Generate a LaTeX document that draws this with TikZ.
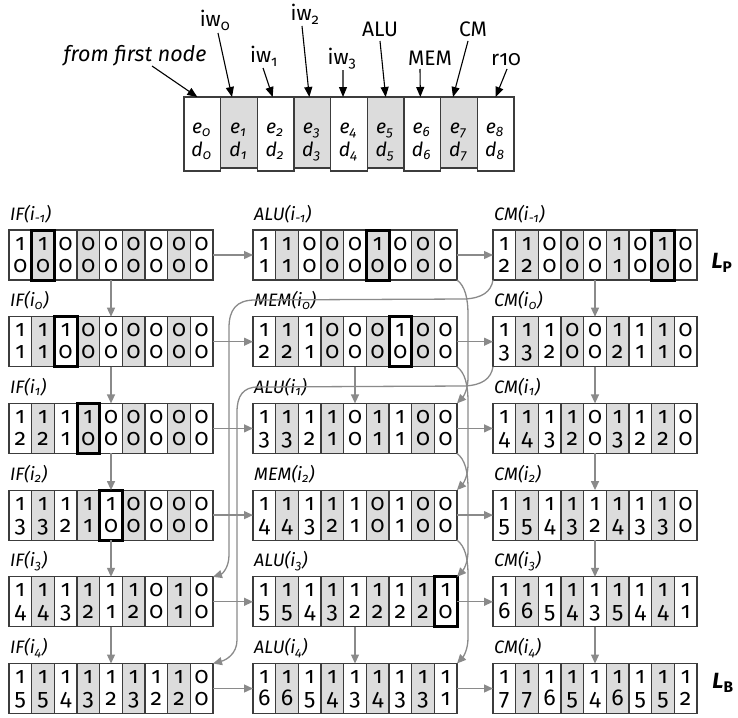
\documentclass[tikz,border=0pt]{standalone}
\usepackage{fontspec}
\setmainfont{Fira Sans}[Numbers=OldStyle]
\usetikzlibrary{arrows.meta}
\definecolor{cellgray}{HTML}{DCDCDC}
\definecolor{arrgray}{HTML}{8A8A8A}
\definecolor{edge}{HTML}{3C3C3C}
\tikzset{
  cell/.style={draw=edge, line width=1.1pt, minimum width=22.667pt, minimum height=50pt, inner sep=0pt, outer sep=0pt},
  tcell/.style={draw=edge, line width=1.1pt, minimum width=36.667pt, inner sep=0pt, outer sep=0pt},
  dig/.style={font=\fontsize{23}{23}\selectfont, inner sep=0pt, anchor=base},
  lab/.style={font=\fontsize{18}{18}\selectfont\itshape, inner sep=0pt, anchor=base west},
  tlab/.style={font=\fontsize{21}{21}\selectfont, inner sep=0pt, anchor=base},
  ed/.style={font=\fontsize{19.5}{19.5}\selectfont\itshape, inner sep=0pt, anchor=base},
  conn/.style={draw=arrgray, line width=1.3pt, -{Triangle[length=9pt,width=8pt]}},
  tarr/.style={draw=black, line width=1.1pt, -{Triangle[length=10pt,width=8pt]}},
  boldcell/.style={draw=black, line width=3pt},
  arrbox/.style={inner sep=0pt, outer sep=0pt, minimum width=204pt, minimum height=50pt}
}
\newcommand\mkarr[6]{%
  \node[lab] (#1-lab) at (#2+1,#3-10) {#6};
  \node[arrbox] (#1) at (#2+102,#3+25) {};
  \foreach \ta/\tb [count=\i from 0] in {#4} {
    \pgfmathtruncatemacro\odd{mod(\i,2)}
    \ifnum\odd=1 \def\fc{cellgray}\else\def\fc{white}\fi
    \node[cell, fill=\fc] (#1-\i) at (#2+\i*22.667+11.333,#3+25) {};
    \node[dig] (#1-\i-t) at (#2+\i*22.667+11.333,#3+20) {\ta};
    \node[dig] (#1-\i-b) at (#2+\i*22.667+11.333,#3+42) {\tb};
  }
  \ifnum#5>-1 \draw[boldcell] (#1-#5.north west) rectangle (#1-#5.south east);\fi
}
\begin{document}
\begin{tikzpicture}[x=1pt,y=-1pt]
\useasboundingbox (0,0) rectangle (738,717);

% ---------- top array ----------
\foreach \i in {0,...,8} {
  \pgfmathtruncatemacro\odd{mod(\i,2)}
  \ifnum\odd=1
    \node[tcell, fill=cellgray, minimum height=71pt] (e\i) at (184+\i*36.667+18.333,132.5) {};
  \else
    \node[tcell, fill=white, minimum height=74pt] (e\i) at (184+\i*36.667+18.333,134) {};
  \fi
  \node[ed] (e\i-t) at (184+\i*36.667+17.5,133) {e\textsubscript{\i}};
  \node[ed] (e\i-b) at (184+\i*36.667+17.5,156) {d\textsubscript{\i}};
}

\node[tlab, font=\fontsize{21.5}{21.5}\selectfont\itshape] (lfrom) at (135,61) {from first node};
\node[tlab] (liw0) at (215,27) {iw\textsubscript{0}};
\node[tlab] (liw1) at (264,63) {iw\textsubscript{1}};
\node[tlab] (liw2) at (305,21) {iw\textsubscript{2}};
\node[tlab] (liw3) at (342,64) {iw\textsubscript{3}};
\node[tlab] (lalu) at (380,37) {ALU};
\node[tlab] (lmem) at (430,65) {MEM};
\node[tlab] (lcm) at (473,37) {CM};
\node[tlab] (lr10) at (506,65) {r10};

\coordinate (sfrom) at (152,66);
\coordinate (siw0) at (218,33);
\coordinate (siw1) at (263,68);
\coordinate (siw2) at (302,26);
\coordinate (siw3) at (343,70);
\coordinate (salu) at (380,41);
\coordinate (smem) at (420,69);
\coordinate (scm) at (468,41);
\coordinate (sr10) at (507,69);

\draw[tarr] (sfrom) -- ([xshift=-5pt]e0.north);
\draw[tarr] (siw0) -- ([xshift=-7pt]e1.north);
\draw[tarr] (siw1) -- ([xshift=-3pt]e2.north);
\draw[tarr] (siw2) -- ([xshift=-3pt]e3.north);
\draw[tarr] (siw3) -- ([xshift=-6pt]e4.north);
\draw[tarr] (salu) -- ([xshift=0pt]e5.north);
\draw[tarr] (smem) -- ([xshift=-2pt]e6.north);
\draw[tarr] (scm) -- ([xshift=-6pt]e7.north);
\draw[tarr] (sr10) -- ([xshift=0pt]e8.north);

% ---------- column IF ----------
\mkarr{a0}{9}{230}{1/0,1/0,0/0,0/0,0/0,0/0,0/0,0/0,0/0}{1}{IF(i\textsubscript{-1})}
\mkarr{a1}{9}{316.7}{1/1,1/1,1/0,0/0,0/0,0/0,0/0,0/0,0/0}{2}{IF(i\textsubscript{0})}
\mkarr{a2}{9}{403.4}{1/2,1/2,1/1,1/0,0/0,0/0,0/0,0/0,0/0}{3}{IF(i\textsubscript{1})}
\mkarr{a3}{9}{490.1}{1/3,1/3,1/2,1/1,1/0,0/0,0/0,0/0,0/0}{4}{IF(i\textsubscript{2})}
\mkarr{a4}{9}{576.8}{1/4,1/4,1/3,1/2,1/1,1/2,0/0,1/1,0/0}{-1}{IF(i\textsubscript{3})}
\mkarr{a5}{9}{663.5}{1/5,1/5,1/4,1/3,1/2,1/3,1/2,1/2,0/0}{-1}{IF(i\textsubscript{4})}

% ---------- column ALU/MEM ----------
\mkarr{b0}{253}{230}{1/1,1/1,0/0,0/0,0/0,1/0,0/0,0/0,0/0}{5}{ALU(i\textsubscript{-1})}
\mkarr{b1}{253}{316.7}{1/2,1/2,1/1,0/0,0/0,0/0,1/0,0/0,0/0}{6}{MEM(i\textsubscript{0})}
\mkarr{b2}{253}{403.4}{1/3,1/3,1/2,1/1,0/0,1/1,1/1,0/0,0/0}{-1}{ALU(i\textsubscript{1})}
\mkarr{b3}{253}{490.1}{1/4,1/4,1/3,1/2,1/1,0/0,1/1,0/0,0/0}{-1}{MEM(i\textsubscript{2})}
\mkarr{b4}{253}{576.8}{1/5,1/5,1/4,1/3,1/2,1/2,1/2,1/2,1/0}{8}{ALU(i\textsubscript{3})}
\mkarr{b5}{253}{663.5}{1/6,1/6,1/5,1/4,1/3,1/4,1/3,1/3,1/1}{-1}{ALU(i\textsubscript{4})}

% ---------- column CM ----------
\mkarr{c0}{493}{230}{1/2,1/2,0/0,0/0,0/0,1/1,0/0,1/0,0/0}{7}{CM(i\textsubscript{-1})}
\mkarr{c1}{493}{316.7}{1/3,1/3,1/2,0/0,0/0,1/2,1/1,1/1,0/0}{-1}{CM(i\textsubscript{0})}
\mkarr{c2}{493}{403.4}{1/4,1/4,1/3,1/2,0/0,1/3,1/2,1/2,0/0}{-1}{CM(i\textsubscript{1})}
\mkarr{c3}{493}{490.1}{1/5,1/5,1/4,1/3,1/2,1/4,1/3,1/3,0/0}{-1}{CM(i\textsubscript{2})}
\mkarr{c4}{493}{576.8}{1/6,1/6,1/5,1/4,1/3,1/5,1/4,1/4,1/1}{-1}{CM(i\textsubscript{3})}
\mkarr{c5}{493}{663.5}{1/7,1/7,1/6,1/5,1/4,1/6,1/5,1/5,1/2}{-1}{CM(i\textsubscript{4})}

\node[font=\fontsize{22}{22}\selectfont\bfseries\itshape, inner sep=0pt] (LP) at (722,263) {L\textsubscript{\upshape P}};
\node[font=\fontsize{22}{22}\selectfont\bfseries\itshape, inner sep=0pt] (LB) at (723,683) {L\textsubscript{\upshape B}};

% ---------- connectors ----------
\foreach \r in {0,...,5} {
  \draw[conn] (a\r.east) -- (b\r.west);
  \draw[conn] (b\r.east) -- (c\r.west);
}
\foreach \r/\n in {0/1,1/2,2/3,3/4,4/5} {
  \draw[conn] (a\r.south) -- (a\n.north);
  \draw[conn] (c\r.south) -- (c\n.north);
}
\draw[conn] (b1.south) -- (b2.north);
\draw[conn] (b4.south) -- (b5.north);

\foreach \r in {0,1,2,3} {
  \pgfmathsetmacro\yb{280+86.7*\r}
  \pgfmathtruncatemacro\n{\r+2}
  \draw[conn] (b\r.south east) .. controls (465,\yb+6) and (468,\yb+18) .. (468,\yb+35)
     -- (468,\yb+98) .. controls (468,\yb+110) and (463,\yb+117) .. (b\n.north east);
}

\draw[conn] (c0.south west) .. controls (491,292) and (482,298) .. (465,299)
   -- (255,300) .. controls (236,300) and (229,310) .. (229,328)
   -- (229,555) .. controls (229,568) and (222,574) .. (a4.north east);
\draw[conn] (c1.south west) .. controls (491,379) and (482,385) .. (465,386)
   -- (258,387) .. controls (243,387) and (237,396) .. (237,412)
   -- (237,640) .. controls (237,654) and (226,660) .. (a5.north east);
\end{tikzpicture}
\end{document}
